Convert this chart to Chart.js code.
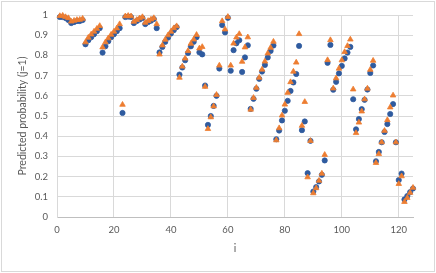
<!DOCTYPE html>
<html>
<head>
<meta charset="utf-8">
<script src="https://cdn.jsdelivr.net/npm/chart.js@4/dist/chart.umd.min.js"></script>
<style>
html,body{margin:0;padding:0;background:#fff;}
#wrap{width:436px;height:273px;position:relative;}
</style>
</head>
<body>
<div id="wrap"><canvas id="c" width="436" height="273"></canvas></div>
<script>
const indexValues = [1,2,3,4,5,6,7,8,9,10,11,12,13,14,15,16,17,18,19,20,21,22,23,24,25,26,27,28,29,30,31,32,33,34,35,36,37,38,39,40,41,42,43,44,45,46,47,48,49,50,51,52,53,54,55,56,57,58,59,60,61,62,63,64,65,66,67,68,69,70,71,72,73,74,75,76,77,78,79,80,81,82,83,84,85,86,87,88,89,90,91,92,93,94,95,96,97,98,99,100,101,102,103,104,105,106,107,108,109,110,111,112,113,114,115,116,117,118,119,120,121,122,123,124,125];

const blueSeries = [0.99,0.99,0.985,0.975,0.96,0.965,0.97,0.97,0.975,
0.855,0.875,0.89,0.905,0.92,0.935,
0.814,0.845,0.87,0.89,0.905,0.92,0.935,
0.515,
0.99,0.992,0.99,0.96,0.97,0.978,0.985,0.955,0.965,0.972,0.98,0.935,
0.815,0.842,0.867,0.888,0.908,0.925,0.94,
0.705,0.74,0.776,0.812,0.845,0.867,0.89,0.815,0.805,
0.651,0.456,0.50,0.55,0.60,0.735,0.95,0.914,0.986,
0.724,0.826,0.86,0.875,0.718,0.79,0.85,
0.535,0.585,0.635,0.684,0.72,0.753,0.79,0.822,0.849,
0.385,0.428,0.478,0.526,0.575,0.624,0.666,0.708,0.847,
0.43,0.473,0.217,0.377,0.126,0.148,0.176,0.209,0.28,
0.763,0.852,0.63,0.669,0.711,0.748,0.785,0.814,0.842,
0.583,0.434,0.485,0.534,0.58,0.631,0.713,0.75,
0.276,0.322,0.37,0.421,0.46,0.51,0.559,0.37,
0.183,0.215,0.087,0.104,0.123,0.141];

const orangeSeries = [0.995,0.997,0.99,0.985,0.968,0.972,0.976,0.977,0.982,
0.865,0.888,0.904,0.918,0.932,0.946,
0.84,0.865,0.885,0.903,0.918,0.934,0.955,
0.556,
0.994,0.996,0.994,0.967,0.976,0.984,0.99,0.962,0.971,0.978,0.985,0.955,
0.805,0.85,0.878,0.9,0.918,0.935,0.945,
0.69,0.745,0.785,0.822,0.858,0.879,0.902,0.835,0.842,
0.645,0.436,0.494,0.548,0.605,0.75,0.97,0.929,0.991,
0.75,0.859,0.889,0.906,0.769,0.84,0.89,
0.532,0.59,0.64,0.69,0.73,0.77,0.81,0.838,0.868,
0.38,0.44,0.503,0.557,0.615,0.668,0.72,0.765,0.906,
0.452,0.57,0.197,0.377,0.118,0.143,0.18,0.215,0.308,
0.777,0.876,0.637,0.687,0.735,0.776,0.817,0.847,0.879,
0.632,0.416,0.468,0.523,0.583,0.636,0.729,0.774,
0.268,0.312,0.37,0.427,0.48,0.543,0.602,0.37,
0.164,0.202,0.075,0.095,0.12,0.145];

const xTickValues = [0,20,40,60,80,100,120];
const yTickValues = [0,0.1,0.2,0.3,0.4,0.5,0.6,0.7,0.8,0.9,1];
const xTitle = 'i';
const yTitle = 'Predicted probability (j=1)';

const toPoints = (ys) => indexValues.map((x, k) => ({x: x, y: ys[k]}));

const frame = {
  id: 'frame',
  beforeDraw(chart) {
    const ctx = chart.ctx;
    ctx.save();
    ctx.fillStyle = '#ffffff';
    ctx.fillRect(0, 0, chart.width, chart.height);
    ctx.strokeStyle = '#D9D9D9';
    ctx.lineWidth = 1;
    ctx.strokeRect(1.5, 1.5, 433, 270);
    ctx.restore();
  }
};

const tickFont = {family: 'Lato, "DejaVu Sans", sans-serif', size: 9.5};
const titleFont = {family: 'Lato, "DejaVu Sans", sans-serif', size: 10.5};

new Chart(document.getElementById('c'), {
  type: 'scatter',
  data: {
    datasets: [
      {
        label: 'Series 1',
        data: toPoints(blueSeries),
        pointStyle: 'circle',
        pointRadius: 2.6,
        pointBorderWidth: 0.8,
        backgroundColor: '#2F5B9F',
        borderColor: '#2F5B9F',
        order: 2
      },
      {
        label: 'Series 2',
        data: toPoints(orangeSeries),
        pointStyle: 'triangle',
        pointRadius: 3.2,
        pointBorderWidth: 0.8,
        backgroundColor: '#ED7D31',
        borderColor: '#ED7D31',
        order: 1
      }
    ]
  },
  options: {
    responsive: false,
    animation: false,
    events: [],
    clip: false,
    layout: {padding: {left: 0, right: 23, top: 15, bottom: 0}},
    plugins: {legend: {display: false}, tooltip: {enabled: false}},
    scales: {
      x: {
        type: 'linear',
        min: 0,
        max: 125,
        afterBuildTicks: (s) => { s.ticks = xTickValues.map(v => ({value: v})); },
        afterFit: (s) => { s.height = 56; },
        ticks: {font: tickFont, color: '#595959', padding: 7, maxRotation: 0},
        grid: {color: '#D9D9D9', lineWidth: 1, drawTicks: false},
        border: {color: '#BFBFBF', width: 1},
        title: {display: true, text: xTitle, font: titleFont, color: '#595959', padding: {top: 0, bottom: 18.5}}
      },
      y: {
        type: 'linear',
        min: 0,
        max: 1,
        afterBuildTicks: (s) => { s.ticks = yTickValues.map(v => ({value: v})); },
        afterFit: (s) => { s.width = 57; },
        ticks: {font: tickFont, color: '#595959', padding: 9, callback: (v) => String(Math.round(v * 10) / 10)},
        grid: {color: '#D9D9D9', lineWidth: 1, drawTicks: false},
        border: {color: '#D9D9D9', width: 1},
        title: {display: true, text: yTitle, font: titleFont, color: '#595959', padding: {top: 16.5, bottom: 0}}
      }
    }
  },
  plugins: [frame]
});
</script>
</body>
</html>
